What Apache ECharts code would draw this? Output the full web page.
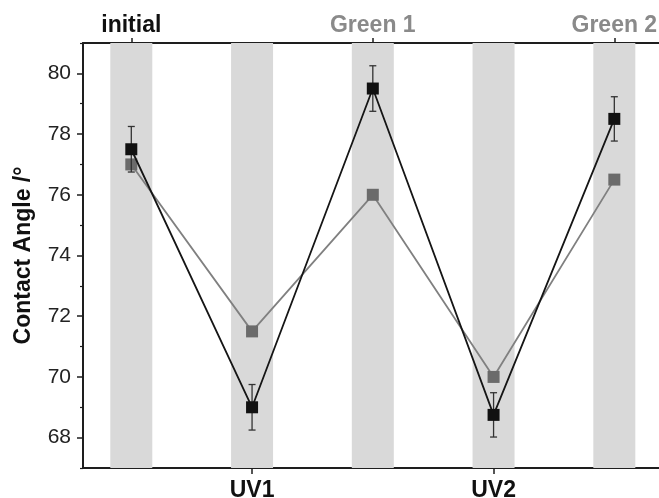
<!DOCTYPE html>
<html>
<head>
<meta charset="utf-8">
<script src="https://cdn.jsdelivr.net/npm/echarts@6/dist/echarts.min.js"></script>
<style>
html,body{margin:0;padding:0;background:#fff;}
#chart{width:659px;height:498px;}
</style>
</head>
<body>
<div id="chart"></div>
<script>
// ---- data ----
var categories = ['initial', 'UV1', 'Green 1', 'UV2', 'Green 2'];
var categoryPos = [1, 2, 3, 4, 5];
var bottomCats = [2, 4];        // UV1, UV2 labelled below
var topCats = [1, 3, 5];        // initial, Green 1, Green 2 labelled above
var blackMean = [77.5, 69.0, 79.5, 68.75, 78.5];
var blackErr  = [0.75, 0.75, 0.75, 0.73, 0.73];
var grayMean  = [77.0, 71.5, 76.0, 70.0, 76.5];
var yMajorTicks = [68, 70, 72, 74, 76, 78, 80];
var yMinorTicks = [67, 69, 71, 73, 75, 77, 79, 81];
var yMin = 67, yMax = 81;
var bandTop = 81;

var blackData = categoryPos.map(function (x, i) { return [x, blackMean[i]]; });
var grayData = categoryPos.map(function (x, i) { return [x, grayMean[i]]; });
var errData = categoryPos.map(function (x, i) { return [x, blackMean[i] - blackErr[i], blackMean[i] + blackErr[i]]; });
var bandData = categoryPos.map(function (x) { return [x, bandTop]; });

var chart = echarts.init(document.getElementById('chart'), null, {renderer: 'canvas'});
var font = 'Liberation Sans, Arial, sans-serif';
var axisColor = '#1e1e1e';

function catLabel(v) {
  var idx = Math.round(v) - 1;
  var name = categories[idx];
  if (name === undefined) return '';
  return name.indexOf('Green') === 0 ? '{g|' + name + '}' : '{k|' + name + '}';
}
var richLabels = {
  k: {color: '#111', fontWeight: 'bold', fontSize: 23, fontFamily: font},
  g: {color: '#8a8a8a', fontWeight: 'bold', fontSize: 23, fontFamily: font}
};

var option = {
  animation: false,
  backgroundColor: '#fff',
  grid: {left: 83, right: 0, top: 43, bottom: 30, containLabel: false, outerBoundsMode: 'none'},
  xAxis: [
    {
      type: 'value', position: 'bottom', min: 0.6, max: 5.37,
      axisLine: {show: true, lineStyle: {color: axisColor, width: 2}},
      axisTick: {show: true, customValues: bottomCats, length: 6, lineStyle: {color: axisColor, width: 1.5}},
      axisLabel: {show: true, customValues: bottomCats, margin: 11, formatter: catLabel, rich: richLabels},
      splitLine: {show: false}
    },
    {
      type: 'value', position: 'top', min: 0.6, max: 5.37,
      axisLine: {show: true, lineStyle: {color: axisColor, width: 2}},
      axisTick: {show: true, customValues: topCats, length: 5, lineStyle: {color: axisColor, width: 1.5}},
      axisLabel: {show: true, customValues: topCats, margin: 6, formatter: catLabel, rich: richLabels},
      splitLine: {show: false}
    }
  ],
  yAxis: [
    {
      type: 'value', min: yMin, max: yMax,
      name: 'Contact Angle /°', nameLocation: 'middle', nameGap: 48,
      nameTextStyle: {fontSize: 23, fontWeight: 'bold', color: '#111', fontFamily: font},
      axisLine: {show: true, lineStyle: {color: axisColor, width: 2}},
      axisTick: {show: true, customValues: yMajorTicks, length: 6, lineStyle: {color: axisColor, width: 1.5}},
      axisLabel: {show: true, customValues: yMajorTicks, margin: 12, fontSize: 21, color: '#222', fontFamily: font},
      splitLine: {show: false}
    },
    {
      type: 'value', min: yMin, max: yMax, position: 'left',
      axisLine: {show: false},
      axisTick: {show: true, customValues: yMinorTicks, length: 3, lineStyle: {color: axisColor, width: 1.2}},
      axisLabel: {show: false},
      splitLine: {show: false}
    }
  ],
  series: [
    {
      type: 'bar', name: 'bands', data: bandData, barWidth: 42, z: 1,
      itemStyle: {color: '#d9d9d9'}, silent: true
    },
    {
      type: 'line', name: 'gray', data: grayData, z: 3,
      lineStyle: {color: '#808080', width: 1.8},
      symbol: 'rect', symbolSize: 12,
      itemStyle: {color: '#6b6b6b', opacity: 1}
    },
    {
      type: 'line', name: 'black', data: blackData, z: 4,
      lineStyle: {color: '#151515', width: 1.8},
      symbol: 'none'
    },
    {
      type: 'custom', name: 'err', data: errData, z: 5,
      renderItem: function (params, api) {
        var x = api.value(0);
        var lo = api.coord([x, api.value(1)]);
        var hi = api.coord([x, api.value(2)]);
        var cw = 3.5;
        var st = {stroke: '#333', lineWidth: 1.3, fill: null};
        return {type: 'group', children: [
          {type: 'line', shape: {x1: lo[0], y1: lo[1], x2: hi[0], y2: hi[1]}, style: st},
          {type: 'line', shape: {x1: lo[0] - cw, y1: lo[1], x2: lo[0] + cw, y2: lo[1]}, style: st},
          {type: 'line', shape: {x1: hi[0] - cw, y1: hi[1], x2: hi[0] + cw, y2: hi[1]}, style: st}
        ]};
      }
    },
    {
      type: 'scatter', name: 'blackPts', data: blackData, z: 6,
      symbol: 'rect', symbolSize: 12,
      itemStyle: {color: '#111', opacity: 1}
    }
  ]
};
chart.setOption(option);
</script>
</body>
</html>
